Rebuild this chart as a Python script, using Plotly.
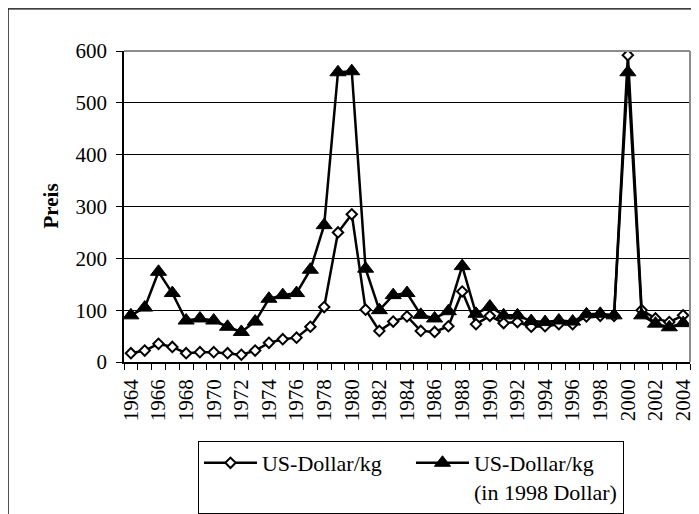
import plotly.graph_objects as go

years = list(range(1964, 2005))
nominal = [17, 22, 35, 29, 17, 19, 19, 17, 14, 22,
           37, 44, 47, 68, 106, 250, 285, 101, 60, 78,
           88, 60, 58, 69, 136, 73, 89, 75, 77, 68,
           69, 73, 73, 88, 89, 89, 592, 100, 84, 77,
           90]
real1998 = [90, 105, 174, 133, 80, 84, 80, 68, 58, 78,
            122, 129, 133, 178, 264, 559, 561, 180, 100, 129,
            133, 91, 84, 98, 185, 93, 107, 90, 90, 79,
            77, 80, 78, 92, 93, 90, 559, 90, 74, 67,
            75]
name_nominal = "US-Dollar/kg"
name_real = "US-Dollar/kg<br>(in 1998 Dollar)"
y_title = "Preis"

FONT = "'Liberation Serif', 'DejaVu Serif', serif"

fig = go.Figure()
fig.add_trace(go.Scatter(
    x=years, y=nominal, name=name_nominal, mode="lines+markers",
    line=dict(color="black", width=2.5),
    marker=dict(symbol="diamond", size=8, color="white",
                line=dict(color="black", width=2)),
))
fig.add_trace(go.Scatter(
    x=years, y=real1998, name=name_real, mode="lines+markers",
    line=dict(color="black", width=2.5),
    marker=dict(symbol="triangle-up", size=14, color="black",
                line=dict(color="black", width=1)),
))

fig.update_layout(
    width=691, height=506,
    margin=dict(l=116, r=9, t=43, b=152, autoexpand=False),
    paper_bgcolor="white", plot_bgcolor="white",
    font=dict(family=FONT, size=21, color="black"),
    showlegend=True,
    legend=dict(
        orientation="h", x=0.1307, xanchor="left", y=-0.254, yanchor="top",
        bordercolor="black", borderwidth=1, bgcolor="white",
        font=dict(family=FONT, size=22, color="black"),
        valign="top", itemwidth=53, entrywidth=144, tracegroupgap=0,
    ),
    xaxis=dict(
        range=[1963.5, 2004.5], tickmode="linear", tick0=1964, dtick=2,
        tickangle=-90, ticks="", showgrid=False, zeroline=False,
        showline=True, linecolor="black", linewidth=1.5,
        ticklabelstandoff=7,
        tickfont=dict(family=FONT, size=21),
        minor=dict(ticks="outside", tick0=1963.5, dtick=1, ticklen=6,
                   tickcolor="black", tickwidth=1, showgrid=False),
    ),
    yaxis=dict(
        range=[0, 600], tickmode="linear", tick0=0, dtick=100,
        ticks="outside", ticklen=6, tickcolor="black", tickwidth=1,
        showgrid=True, gridcolor="black", gridwidth=1, zeroline=False,
        showline=True, linecolor="black", linewidth=1.5,
        ticklabelstandoff=5,
        tickfont=dict(family=FONT, size=21),
    ),
    annotations=[dict(
        text="<b>" + y_title + "</b>", xref="paper", yref="paper",
        x=-0.1307, y=0.5, xanchor="center", yanchor="middle",
        textangle=-90, showarrow=False,
        font=dict(family=FONT, size=21, color="black"),
    )],
    shapes=[
        dict(type="line", xref="paper", yref="paper", x0=0, x1=1, y0=1, y1=1,
             line=dict(color="#8c8c8c", width=2)),
        dict(type="line", xref="paper", yref="paper", x0=1, x1=1, y0=0, y1=1,
             line=dict(color="#8c8c8c", width=2)),
        dict(type="rect", xref="paper", yref="paper", x0=-0.2048, x1=1.05,
             y0=-0.7, y1=1.1357, line=dict(color="black", width=1.2),
             layer="below"),
    ],
)

fig.write_html("out.html", config={"displayModeBar": False})
